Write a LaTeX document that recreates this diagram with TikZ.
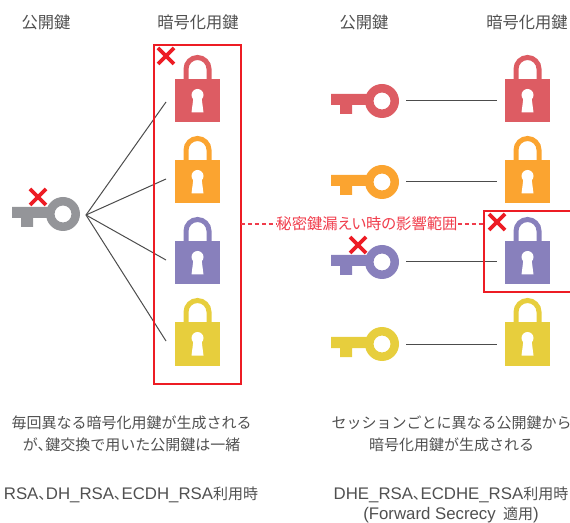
\documentclass[tikz,border=0pt]{standalone}
\usepackage{fontspec}
\setmainfont{Noto Sans CJK JP}
\newfontfamily\narrowfont[RawFeature=+palt]{Noto Sans CJK JP}
\newfontfamily\latinfont{Liberation Sans}
\usetikzlibrary{positioning}
\definecolor{lockred}{RGB}{221,92,99}
\definecolor{lockorange}{RGB}{251,164,48}
\definecolor{lockpurple}{RGB}{136,128,188}
\definecolor{lockyellow}{RGB}{231,206,61}
\definecolor{keygray}{RGB}{148,149,153}
\definecolor{markred}{RGB}{237,28,36}
\definecolor{rangered}{RGB}{240,60,75}
\definecolor{textgray}{RGB}{80,80,80}
\newcommand{\lat}[1]{{\latinfont\fontsize{12.6}{14}\selectfont #1}}
\newcommand{\comma}{{\narrowfont 、}}
\tikzset{
  pics/lockicon/.style={code={
    \draw [#1,line width=3.75pt] (-11.5,0) -- (-11.5,-10) arc (180:360:11.5) -- (11.5,0);
    \fill [#1] (-22.5,0) rectangle (22.5,43.5);
    \fill [white] (0,16) circle (6);
    \fill [white] (-4,18) -- (4,18) -- (6,33.5) -- (-6,33.5) -- cycle;
  }},
  pics/keyicon/.style={code={
    \fill [#1] (-51,-7) -- (-10,-7) -- (-10,4) -- (-30,4) -- (-30,13) -- (-42,13) -- (-42,4) -- (-51,4) -- cycle;
    \fill [#1,even odd rule] (0,0) circle (17) (0,0) circle (8.5);
  }},
  pics/crossmark/.style={code={
    \draw [markred,line width=2.8pt] (-8,-8) -- (8,8) (-8,8) -- (8,-8);
  }},
  headtext/.style={text=textgray,font=\fontsize{12.2}{14}\selectfont,inner sep=0pt},
  bodytext/.style={text=textgray,font=\fontsize{11.25}{16.5}\selectfont,inner sep=0pt,align=center},
  linkline/.style={draw=black!70,line width=0.75pt},
  rangebox/.style={draw=markred,line width=1.5pt},
  rangeline/.style={draw=rangered,line width=1pt,dash pattern=on 3pt off 2.2pt}
}
\begin{document}
\begin{tikzpicture}[x=0.75pt,y=-0.75pt]
\useasboundingbox (0,0) rectangle (570,523);

% the headings
\node [headtext] (headkeyl) at (46,22) {公開鍵};
\node [headtext] (headlockl) at (198,22) {暗号化用鍵};
\node [headtext] (headkeyr) at (364,22) {公開鍵};
\node [headtext] (headlockr) at (527,22) {暗号化用鍵};

% the locks and keys
\foreach \i/\c/\y/\e in {1/lockred/79/102,2/lockorange/160/179,3/lockpurple/241/260,4/lockyellow/322/341} {
  \pic at (197.5,\y) {lockicon=\c};
  \pic at (527.5,\y) {lockicon=\c};
  \coordinate (lockl\i) at (166,\e);
}
\foreach \i/\c/\y in {1/lockred/101,2/lockorange/182,3/lockpurple/262,4/lockyellow/344} {
  \pic at (382,\y) {keyicon=\c};
  \coordinate (keyr\i) at (406,\y);
  \coordinate (lockr\i) at (497,\y);
}
\pic at (63,214) {keyicon=keygray};
\coordinate (keyl) at (86,215);

% the edges
\foreach \i in {1,2,3,4} {
  \draw [linkline] (keyl) -- (lockl\i);
  \draw [linkline] (keyr\i) -- (lockr\i);
}

% the ranges
\draw [rangebox] (153.5,45.5) rectangle (241,384);
\draw [rangebox] (484,211) rectangle (576,292);
\node [text=rangered,font=\narrowfont\fontsize{11.5}{13}\selectfont,inner sep=0pt] (range) at (367,224) {秘密鍵漏えい時の影響範囲};
\coordinate (rangel) at (241,224);
\coordinate (ranger) at (484,224);
\draw [rangeline] (rangel) -- (range);
\draw [rangeline] (range) -- (ranger);

% the crosses
\pic at (166,56) {crossmark};
\pic at (38,197) {crossmark};
\pic at (497,222) {crossmark};
\pic at (358,245) {crossmark};

% the captions
\node [bodytext] (capl) at (131.5,434) {毎回異なる暗号化用鍵が生成される\\が\comma 鍵交換で用いた公開鍵は一緒};
\node [bodytext] (capr) at (451.5,434) {セッションごとに異なる公開鍵から\\暗号化用鍵が生成される};
\node [bodytext] (usel) at (131,495) {\lat{RSA}\comma\lat{DH\_RSA}\comma\lat{ECDH\_RSA}利用時};
\node [bodytext,font=\fontsize{11.25}{15}\selectfont] (user) at (451,505) {\lat{DHE\_RSA}\comma\lat{ECDHE\_RSA}利用時\\\lat{(Forward Secrecy\hspace{2pt} }適用\lat{)}};
\end{tikzpicture}
\end{document}
